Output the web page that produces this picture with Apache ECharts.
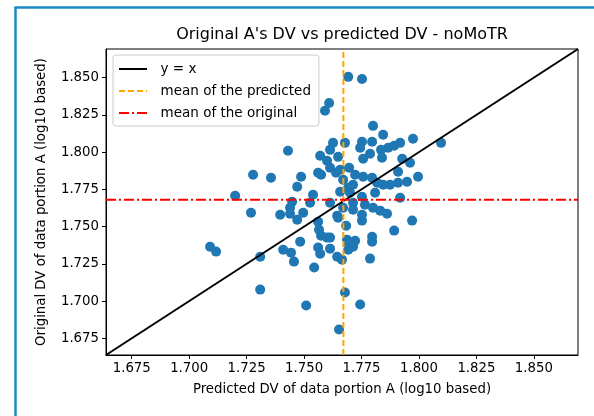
<!DOCTYPE html>
<html>
<head>
<meta charset="utf-8">
<script src="https://cdn.jsdelivr.net/npm/echarts@6/dist/echarts.min.js"></script>
<style>
  html, body { margin: 0; padding: 0; background: #fff; }
  #chart { width: 594px; height: 416px; }
</style>
</head>
<body>
<div id="chart"></div>
<script>
// predicted DV (x) and original DV (y)
var predicted = [
  1.7692, 1.7752, 1.7609, 1.7591, 1.7800, 1.7844, 1.7678, 1.7626, 1.7752, 1.7744,
  1.7796, 1.7835, 1.7866, 1.7892, 1.7918, 1.7974, 1.8096, 1.7613, 1.7430, 1.7787,
  1.7757, 1.7839, 1.7927, 1.7570, 1.7600, 1.7648, 1.7696, 1.7657, 1.7639, 1.7574,
  1.7561, 1.7487, 1.7470, 1.7356, 1.7278, 1.7909, 1.7996, 1.7961, 1.7670, 1.7722,
  1.7757, 1.7796, 1.7713, 1.7818, 1.7844, 1.7874, 1.7909, 1.7948, 1.7692, 1.7657,
  1.7809, 1.7752, 1.7700, 1.7539, 1.7200, 1.7918, 1.7713, 1.7670, 1.7765, 1.7800,
  1.7831, 1.7861, 1.7613, 1.7526, 1.7448, 1.7439, 1.7439, 1.7396, 1.7496, 1.7470,
  1.7269, 1.7644, 1.7648, 1.7752, 1.7752, 1.7713, 1.7970, 1.7561, 1.7892, 1.7565,
  1.7574, 1.7600, 1.7613, 1.7687, 1.7722, 1.7796, 1.7796, 1.7713, 1.7692, 1.7692,
  1.7483, 1.7409, 1.7443, 1.7456, 1.7544, 1.7561, 1.7570, 1.7613, 1.7644, 1.7665,
  1.7787, 1.7091, 1.7117, 1.7309, 1.7309, 1.7509, 1.7678, 1.7744, 1.7652, 1.7683,
  1.7613
];
var original = [
  1.8505, 1.8491, 1.8330, 1.8277, 1.8176, 1.8116, 1.8062, 1.8062, 1.8069, 1.8029,
  1.8069, 1.8015, 1.8029, 1.8042, 1.8062, 1.8089, 1.8062, 1.8015, 1.8009, 1.7989,
  1.7955, 1.7962, 1.7955, 1.7975, 1.7942, 1.7968, 1.7895, 1.7881, 1.7861, 1.7848,
  1.7861, 1.7834, 1.7767, 1.7828, 1.7848, 1.7868, 1.7834, 1.7928, 1.7814, 1.7848,
  1.7834, 1.7828, 1.7781, 1.7794, 1.7781, 1.7781, 1.7794, 1.7801, 1.7761, 1.7734,
  1.7727, 1.7700, 1.7727, 1.7714, 1.7707, 1.7694, 1.7660, 1.7627, 1.7647, 1.7627,
  1.7607, 1.7586, 1.7660, 1.7660, 1.7667, 1.7627, 1.7586, 1.7580, 1.7593, 1.7546,
  1.7593, 1.7573, 1.7560, 1.7580, 1.7540, 1.7613, 1.7540, 1.7533, 1.7473, 1.7479,
  1.7439, 1.7426, 1.7426, 1.7412, 1.7405, 1.7432, 1.7399, 1.7365, 1.7345, 1.7392,
  1.7399, 1.7345, 1.7325, 1.7265, 1.7225, 1.7359, 1.7318, 1.7352, 1.7298, 1.7278,
  1.7285, 1.7365, 1.7332, 1.7298, 1.7077, 1.6970, 1.7057, 1.6977, 1.6809, 1.7506,
  1.7895
];
var meanPredicted = 1.7671;
var meanOriginal = 1.7680;
var axisMin = 1.6638;
var axisMax = 1.8692;
var tickValues = [1.675, 1.700, 1.725, 1.750, 1.775, 1.800, 1.825, 1.850];

var font = '"DejaVu Sans", sans-serif';
var chart = echarts.init(document.getElementById('chart'), null, { renderer: 'canvas' });

var points = [];
for (var i = 0; i < predicted.length; i++) {
  points.push([predicted[i], original[i]]);
}

function axis(name, gap) {
  return {
    type: 'value',
    min: axisMin,
    max: axisMax,
    name: name,
    nameLocation: 'middle',
    nameGap: gap,
    nameTextStyle: { fontFamily: font, fontSize: 13.3, color: '#000' },
    axisLine: { show: true, onZero: false, lineStyle: { color: '#000', width: 1 } },
    axisTick: { show: true, inside: false, length: 4, customValues: tickValues, lineStyle: { color: '#000' } },
    axisLabel: {
      customValues: tickValues,
      formatter: function (v) { return v.toFixed(3); },
      fontFamily: font, fontSize: 13.3, color: '#000', margin: 7
    },
    splitLine: { show: false }
  };
}

var option = {
  animation: false,
  backgroundColor: '#fff',
  grid: {
    left: 106, top: 49, right: 16, bottom: 61,
    show: true, borderColor: '#000', borderWidth: 1, backgroundColor: 'transparent'
  },
  xAxis: axis('Predicted DV of data portion A (log10 based)', 28),
  yAxis: axis('Original DV of data portion A (log10 based)', 58),
  legend: {
    data: ['y = x', 'mean of the predicted', 'mean of the original'],
    orient: 'vertical',
    left: 113, top: 55,
    padding: [7, 8, 6, 5],
    itemGap: 8,
    itemWidth: 28,
    itemHeight: 13,
    formatter: function (name) { return '  ' + name; },
    itemStyle: { opacity: 0 },
    lineStyle: { width: 2 },
    textStyle: { fontFamily: font, fontSize: 13.5, color: '#000' },
    borderColor: '#ccc', borderWidth: 1, borderRadius: 3,
    backgroundColor: 'rgba(255,255,255,0.8)',
    selectedMode: false
  },
  graphic: [
    {
      type: 'text', x: 342, y: 35,
      style: {
        text: "Original A's DV vs predicted DV - noMoTR",
        textAlign: 'center', textVerticalAlign: 'middle',
        font: '16px ' + font, fill: '#000'
      }
    },
    { type: 'line', shape: { x1: 15.5, y1: 7, x2: 15.5, y2: 416 }, style: { stroke: '#1a8ac6', lineWidth: 2.5 } },
    { type: 'line', shape: { x1: 14.5, y1: 7.5, x2: 594, y2: 7.5 }, style: { stroke: '#1a8ac6', lineWidth: 2.5 } }
  ],
  series: [
    {
      type: 'scatter',
      data: points,
      symbolSize: 10,
      itemStyle: { color: '#1f77b4', opacity: 1 },
      emphasis: { disabled: true },
      z: 2
    },
    {
      name: 'y = x',
      type: 'line',
      data: [[axisMin, axisMin], [axisMax, axisMax]],
      symbol: 'none',
      lineStyle: { color: '#000', width: 2 },
      itemStyle: { color: '#000' },
      z: 3
    },
    {
      name: 'mean of the predicted',
      type: 'line',
      data: [[meanPredicted, axisMin], [meanPredicted, axisMax]],
      symbol: 'none',
      lineStyle: { color: '#ffa500', width: 2, type: [6, 3] },
      itemStyle: { color: '#ffa500' },
      z: 4
    },
    {
      name: 'mean of the original',
      type: 'line',
      data: [[axisMin, meanOriginal], [axisMax, meanOriginal]],
      symbol: 'none',
      lineStyle: { color: '#ff0000', width: 2, type: [10, 3, 2, 3] },
      itemStyle: { color: '#ff0000' },
      z: 4
    }
  ]
};

chart.setOption(option);
</script>
</body>
</html>
